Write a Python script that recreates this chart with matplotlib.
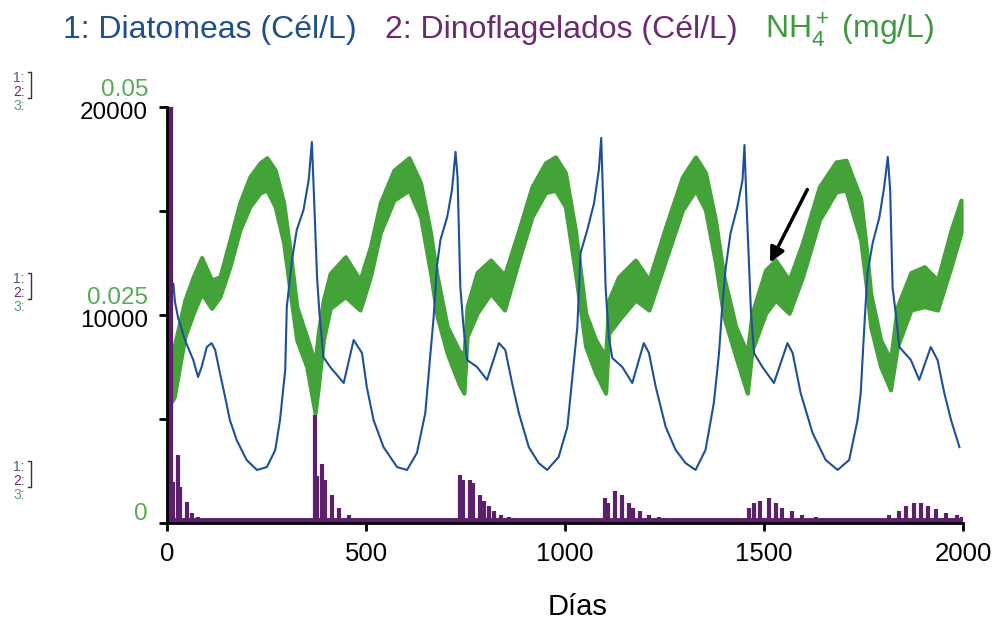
import matplotlib
matplotlib.use("Agg")
import matplotlib.pyplot as plt
import matplotlib.transforms as mtransforms
from matplotlib.lines import Line2D

plt.rcParams["font.family"] = ["Liberation Sans", "DejaVu Sans"]
plt.rcParams["mathtext.fontset"] = "custom"
plt.rcParams["mathtext.rm"] = "Liberation Sans"
plt.rcParams["mathtext.it"] = "Liberation Sans:italic"

BLUE = "#1d4f9b"
PURPLE = "#5b1f6c"
GREEN = "#43a238"

# 1: diatomeas (cel/L)
diat_days = [0, 16, 20, 28, 45, 66, 78, 87, 100, 112, 121, 133, 146, 158, 175, 200, 226, 251,
             272, 284, 297, 301, 314, 326, 343, 356, 364, 370, 377, 383, 393, 410, 444, 469,
             490, 502, 519, 544, 578, 603, 628, 649, 662, 670, 678, 687, 704, 716, 725, 730,
             737, 745, 754, 779, 804, 834, 850, 867, 884, 909, 934, 955, 984, 1006, 1022,
             1031, 1039, 1056, 1073, 1085, 1091, 1095, 1102, 1110, 1119, 1144, 1169, 1198,
             1211, 1228, 1253, 1278, 1303, 1328, 1353, 1374, 1387, 1395, 1404, 1416, 1433,
             1446, 1451, 1456, 1467, 1475, 1496, 1525, 1559, 1572, 1592, 1622, 1655, 1685,
             1714, 1735, 1743, 1752, 1760, 1773, 1790, 1802, 1811, 1817, 1823, 1832, 1840,
             1869, 1890, 1919, 1936, 1953, 1970, 1991]
diat_cells = [11600, 11500, 10630, 9860, 8800, 7840, 7020, 7500, 8460, 8650, 8320, 7210, 6060,
              4950, 3990, 3030, 2550, 2690, 3510, 4950, 7360, 10390, 12650, 14090, 15050,
              16490, 18320, 15380, 11830, 10100, 7980, 7500, 6730, 8800, 8170, 6540, 4950,
              3650, 2690, 2550, 3370, 5290, 8170, 9900, 12310, 13610, 14710, 16010, 17840,
              16640, 11350, 9420, 7840, 7500, 6880, 8650, 8320, 6730, 5290, 3650, 2880, 2550,
              3170, 4620, 7690, 9420, 12980, 14090, 15380, 16970, 18510, 16010, 11350, 8940,
              7930, 7500, 6730, 8650, 8170, 6540, 4620, 3510, 2880, 2550, 3510, 5770, 8170,
              10390, 12310, 13940, 15190, 16490, 18170, 15380, 10240, 8170, 7500, 6730, 8650,
              8170, 6250, 4330, 3030, 2550, 3030, 4950, 6250, 9420, 12020, 13460, 14710,
              16160, 17600, 16010, 11350, 9900, 8460, 7840, 6880, 8460, 7840, 6250, 4950, 3650]

# 2: dinoflagelados (cel/L), pulses
dino_days = [8, 15, 28, 33, 50, 62, 79,
             372, 377, 390, 398, 415, 432, 457, 478,
             735, 744, 761, 769, 786, 797, 810, 822, 839, 860, 873,
             1100, 1109, 1126, 1143, 1160, 1172, 1189, 1210, 1235, 1252,
             1462, 1475, 1491, 1512, 1529, 1546, 1571, 1596, 1630, 1647,
             1815, 1840, 1857, 1878, 1895, 1912, 1933, 1958, 1984, 1998]
dino_peaks = [20000, 1970, 3270, 1730, 1010, 500, 270,
              5190, 2280, 2820, 2090, 1360, 730, 390, 250,
              2330, 2090, 2090, 1900, 1360, 1040, 800, 560, 390, 300, 250,
              1210, 950, 1550, 1360, 950, 730, 560, 390, 300, 250,
              730, 970, 1040, 1210, 970, 730, 560, 390, 300, 250,
              390, 560, 820, 970, 970, 820, 650, 480, 390, 300]
dino_floor = 150

# 3: NH4+ (mg/L), band of the fast oscillation
nh4_days = [3, 18, 45, 66, 87, 112, 133, 158, 183, 208, 234, 251, 272, 293, 310, 326, 351,
            372, 380, 393, 410, 448, 485, 511, 536, 570, 608, 637, 662, 679, 704, 733, 746,
            754, 779, 813, 848, 884, 917, 951, 976, 1001, 1026, 1052, 1077, 1102, 1110,
            1135, 1177, 1211, 1253, 1295, 1328, 1353, 1378, 1399, 1429, 1458, 1470, 1504,
            1529, 1563, 1597, 1639, 1681, 1706, 1743, 1757, 1768, 1793, 1818, 1835, 1869,
            1903, 1936, 1970, 1995]
nh4_upper = [0.0175, 0.0212, 0.0268, 0.0296, 0.0319, 0.0292, 0.0296, 0.0340, 0.0385, 0.0416,
             0.0433, 0.0439, 0.0424, 0.0385, 0.0325, 0.0260, 0.0224, 0.0192, 0.0228, 0.0268,
             0.0300, 0.0320, 0.0292, 0.0332, 0.0385, 0.0424, 0.0439, 0.0409, 0.0349, 0.0296,
             0.0236, 0.0208, 0.0200, 0.0260, 0.0301, 0.0316, 0.0298, 0.0352, 0.0404, 0.0433,
             0.0440, 0.0421, 0.0352, 0.0252, 0.0220, 0.0200, 0.0268, 0.0296, 0.0316, 0.0292,
             0.0356, 0.0416, 0.0440, 0.0421, 0.0364, 0.0296, 0.0236, 0.0204, 0.0252, 0.0304,
             0.0316, 0.0292, 0.0337, 0.0404, 0.0434, 0.0436, 0.0390, 0.0330, 0.0276, 0.0220,
             0.0196, 0.0260, 0.0301, 0.0308, 0.0292, 0.0352, 0.0388]
nh4_lower = [0.0140, 0.0151, 0.0224, 0.0252, 0.0276, 0.0258, 0.0272, 0.0308, 0.0352, 0.0380,
             0.0397, 0.0400, 0.0380, 0.0337, 0.0276, 0.0220, 0.0188, 0.0132, 0.0163, 0.0220,
             0.0258, 0.0272, 0.0256, 0.0296, 0.0349, 0.0388, 0.0400, 0.0368, 0.0301, 0.0248,
             0.0204, 0.0168, 0.0156, 0.0224, 0.0252, 0.0276, 0.0256, 0.0316, 0.0368, 0.0397,
             0.0400, 0.0380, 0.0301, 0.0212, 0.0180, 0.0156, 0.0228, 0.0244, 0.0268, 0.0256,
             0.0316, 0.0376, 0.0400, 0.0376, 0.0313, 0.0248, 0.0200, 0.0156, 0.0208, 0.0252,
             0.0268, 0.0252, 0.0296, 0.0364, 0.0398, 0.0400, 0.0340, 0.0285, 0.0236, 0.0188,
             0.0160, 0.0212, 0.0256, 0.0260, 0.0256, 0.0308, 0.0349]

x_ticks = [0, 500, 1000, 1500, 2000]
cell_ticks = [0, 5000, 10000, 15000, 20000]
cell_labels = {10000: "10000", 20000: "20000"}
nh4_labels = {0.0: "0", 0.025: "0.025", 0.05: "0.05"}

fig = plt.figure(figsize=(9.92, 6.27), dpi=100)
W, H = 992, 627


def px(dx, dy):
    # offset in image pixels (dy positive = down)
    return mtransforms.ScaledTranslation(dx / 100, -dy / 100, fig.dpi_scale_trans)


ax = fig.add_axes([167 / W, 1 - 523 / H, 796 / W, 416 / H])
ax2 = ax.twinx()
ax.set_zorder(ax2.get_zorder() + 1)
ax.patch.set_visible(False)

# NH4+ band (behind)
ax2.fill_between(nh4_days, nh4_lower, nh4_upper, color=GREEN, lw=3, edgecolor=GREEN)
ax2.set_ylim(0, 0.05)
ax2.set_yticks([])
for s in ax2.spines.values():
    s.set_visible(False)

# diatomeas and dinoflagelados
ax.plot(diat_days, diat_cells, color=BLUE, lw=1.5)
ax.axhline(dino_floor, color=PURPLE, lw=3.5)
ax.vlines(dino_days, dino_floor, dino_peaks, color=PURPLE, lw=3)
ax.vlines(dino_days[0], dino_floor, dino_peaks[0], color=PURPLE, lw=4.5)

ax.set_xlim(0, 2000)
ax.set_ylim(0, 20000)
for side in ["top", "right"]:
    ax.spines[side].set_visible(False)
for side in ["left", "bottom"]:
    ax.spines[side].set_linewidth(2)
    ax.spines[side].set_color("black")

ax.set_xticks(x_ticks)
ax.set_xticklabels([str(t) for t in x_ticks])
ax.tick_params(axis="x", length=6, width=2, direction="out", labelsize=18.5, pad=8)
ax.set_yticks(cell_ticks)
ax.set_yticklabels([])
ax.tick_params(axis="y", length=6, width=2, direction="out")

tr_cells = mtransforms.blended_transform_factory(ax.transAxes, ax.transData)
for v, lab in cell_labels.items():
    ax.text(0, v, lab, transform=tr_cells + px(-19, 6), ha="right", va="center",
            fontsize=17.5, color="black")
tr_nh4 = mtransforms.blended_transform_factory(ax2.transAxes, ax2.transData)
for v, lab in nh4_labels.items():
    dy = -9 if v == 0 else -17
    ax2.text(0, v, lab, transform=tr_nh4 + px(-19, dy), ha="right", va="center",
             fontsize=17.5, color="#5aa85a")

# arrow
arrow_tail = (1612, 16150)
arrow_head = (1512, 12400)
ax.annotate("", xy=arrow_head, xytext=arrow_tail,
            arrowprops=dict(arrowstyle="-|>", lw=2.5, color="black", mutation_scale=22))

# titles
fig.text(63 / W, 1 - 30 / H, "1: Diatomeas (Cél/L)", color="#1f4f8c", fontsize=23,
         ha="left", va="center")
fig.text(385 / W, 1 - 30 / H, "2: Dinoflagelados (Cél/L)", color="#6b2b70", fontsize=23,
         ha="left", va="center")
fig.text(765 / W, 1 - 30 / H, r"NH$_4^+$ (mg/L)", color="#3f9a3f", fontsize=23,
         ha="left", va="center")
fig.text(578 / W, 1 - 607 / H, "Días", color="black", fontsize=21, ha="center", va="center")

# series keys on the left
key_colors = ["#4b5b8c", "#6b2b70", "#5f9a78"]
for mid in [92, 293, 481]:
    for i, c in enumerate(key_colors):
        fig.text(13 / W, 1 - (mid + (i - 1) * 14) / H, f"{i + 1}:", color=c, fontsize=10,
                 ha="left", va="center")
    top, bot = mid - 20, mid + 6
    fig.add_artist(Line2D([28 / W, 31 / W, 31 / W, 28 / W],
                          [1 - top / H, 1 - top / H, 1 - bot / H, 1 - bot / H],
                          transform=fig.transFigure, color="#333333", lw=1))

fig.savefig("out.png", dpi=100)
